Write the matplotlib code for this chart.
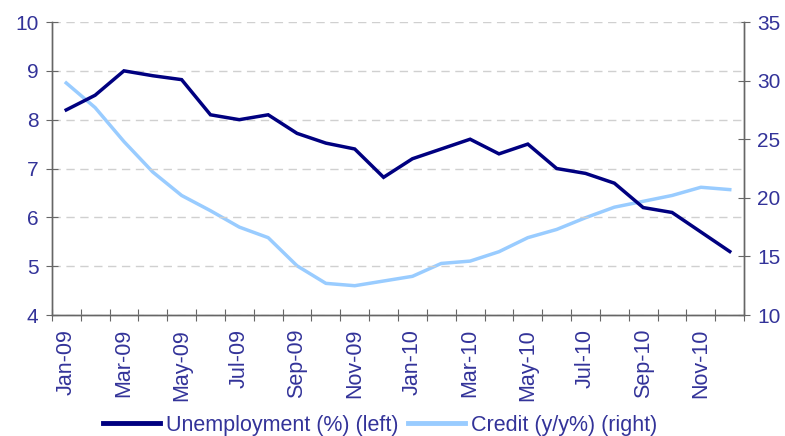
import matplotlib

matplotlib.use("Agg")
import matplotlib.pyplot as plt
import numpy as np

plt.rcParams["font.family"] = ["Liberation Sans", "DejaVu Sans"]

months = ["Jan-09", "Feb-09", "Mar-09", "Apr-09", "May-09", "Jun-09",
          "Jul-09", "Aug-09", "Sep-09", "Oct-09", "Nov-09", "Dec-09",
          "Jan-10", "Feb-10", "Mar-10", "Apr-10", "May-10", "Jun-10",
          "Jul-10", "Aug-10", "Sep-10", "Oct-10", "Nov-10", "Dec-10"]
unemployment = [8.2, 8.5, 9.0, 8.9, 8.82, 8.1, 8.0, 8.1, 7.72, 7.52, 7.4, 6.82,
                7.2, 7.4, 7.6, 7.3, 7.5, 7.0, 6.9, 6.7, 6.2, 6.1, 5.7, 5.3]
credit = [29.8, 27.7, 24.8, 22.2, 20.2, 18.9, 17.5, 16.6, 14.2, 12.7, 12.5, 12.9,
          13.3, 14.4, 14.6, 15.4, 16.6, 17.3, 18.3, 19.2, 19.7, 20.2, 20.9, 20.7]

TEXT = "#333399"
AXIS = "#666666"

fig = plt.figure(figsize=(7.85, 4.36), dpi=100)
ax = fig.add_axes([0.066, 0.2775, 0.882, 0.672])
ax2 = ax.twinx()

x = np.arange(len(months))
l1, = ax.plot(x, unemployment, color="#000080", lw=2.5, solid_joinstyle="miter",
              label="Unemployment (%) (left)", zorder=3)
l2, = ax2.plot(x, credit, color="#99CCFF", lw=2.5, label="Credit (y/y%) (right)")
ax.set_zorder(2)
ax.patch.set_visible(False)

ax.set_xlim(-0.5, len(months) - 0.5)
ax.set_ylim(4, 10)
ax2.set_ylim(10, 35)
ax.set_yticks(range(4, 11))
ax2.set_yticks(range(10, 36, 5))

ax.set_xticks(np.arange(-0.5, len(months)))
ax.set_xticklabels([])
ax.set_xticks(x[::2], minor=True)
ax.set_xticklabels(months[::2], minor=True, rotation=90)
ax.tick_params(axis="x", which="major", direction="inout", length=9, color=AXIS)
ax.tick_params(axis="x", which="minor", length=0, pad=10, labelsize=15.5, labelcolor=TEXT)
ax.tick_params(axis="y", direction="inout", length=9, color=AXIS, labelsize=15,
               labelcolor=TEXT, pad=5)
ax2.tick_params(axis="y", direction="inout", length=9, color=AXIS, labelsize=15,
                labelcolor=TEXT, pad=5)

ax.yaxis.grid(True, color="#d0d0d0", linestyle=(0, (6, 4)), lw=1.0)
ax.set_axisbelow(True)

for a in (ax, ax2):
    a.spines["top"].set_visible(False)
    for s in ("left", "right", "bottom"):
        a.spines[s].set_color(AXIS)
        a.spines[s].set_linewidth(1.0)

leg = fig.legend(handles=[l1, l2], loc="center", bbox_to_anchor=(0.484, 0.025),
                 ncol=2, frameon=False, fontsize=15.5, handlelength=2.65,
                 handletextpad=0.28, columnspacing=0.45, borderpad=0, borderaxespad=0)
for t in leg.get_texts():
    t.set_color(TEXT)
for h in leg.legend_handles:
    h.set_linewidth(3.5)

fig.savefig("out.png", dpi=100)
